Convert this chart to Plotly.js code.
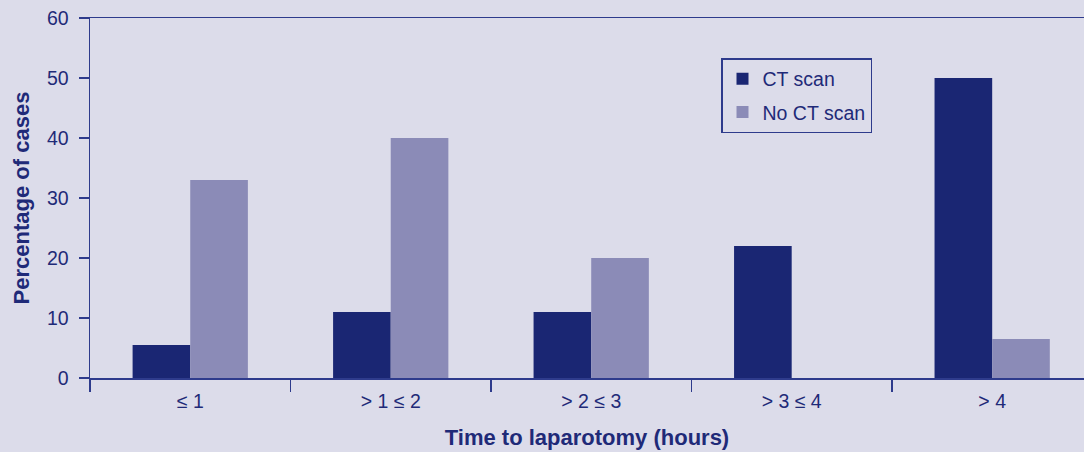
<!DOCTYPE html>
<html>
<head>
<meta charset="utf-8">
<script src="https://cdn.plot.ly/plotly-3.0.1.min.js"></script>
<style>html,body{margin:0;padding:0;background:#dcdcea;}#chart{width:1084px;height:452px;}</style>
</head>
<body>
<div id="chart"></div>
<script>
const categories = ["≤ 1", "> 1 ≤ 2", "> 2 ≤ 3", "> 3 ≤ 4", "> 4"];
const ctScan = [5.5, 11, 11, 22, 50];
const noCtScan = [33, 40, 20, 0, 6.5];
const yTicks = [0, 10, 20, 30, 40, 50, 60];

const axisColor = "#2e3b8c";
const textColor = "#1f2a78";
const bg = "#dcdcea";

const traces = [
  {type: "bar", name: "CT scan", legendgroup: "a", x: categories, y: ctScan, marker: {color: "#1a2673"}},
  {type: "bar", name: "No CT scan", legendgroup: "b", x: categories, y: noCtScan, marker: {color: "#8b8bb7"}}
];

const layout = {
  width: 1084, height: 452,
  paper_bgcolor: bg, plot_bgcolor: bg,
  margin: {l: 90, r: 0, t: 18, b: 74},
  barmode: "group", bargap: 0.425, bargroupgap: 0,
  font: {family: "Liberation Sans, Arial, sans-serif", size: 19, color: textColor},
  showlegend: true,
  legend: {
    bordercolor: axisColor, borderwidth: 1.5, bgcolor: bg,
    font: {size: 19.5, color: textColor}, tracegroupgap: 5, itemwidth: 30
  },
  xaxis: {
    type: "category", range: [-0.5, 4.458], fixedrange: true,
    showline: true, linecolor: axisColor, linewidth: 1.5, mirror: true,
    ticks: "outside", ticklen: 12, tickcolor: axisColor, tickwidth: 1.5,
    tickson: "boundaries", showgrid: false, zeroline: false,
    ticklabelstandoff: 5,
    tickfont: {size: 19.5, color: textColor},
    title: {text: "<b>Time to laparotomy (hours)</b>", font: {size: 22, color: textColor}, standoff: 18}
  },
  yaxis: {
    range: [0, 60], tickvals: yTicks, ticktext: yTicks.map(String),
    showline: true, linecolor: axisColor, linewidth: 1.5,
    ticks: "outside", ticklen: 10, tickcolor: axisColor, tickwidth: 1.5,
    showgrid: false, zeroline: false,
    ticklabelstandoff: 6,
    tickfont: {size: 19.5, color: textColor},
    title: {text: "<b>Percentage of cases</b>", font: {size: 22, color: textColor}, standoff: 11}
  }
};
layout.legend.x = (721 - 90) / 994;
layout.legend.y = 1 - (58 - 18) / 360;
layout.legend.xanchor = "left";
layout.legend.yanchor = "top";

Plotly.newPlot("chart", traces, layout, {displayModeBar: false, staticPlot: true});
</script>
</body>
</html>
